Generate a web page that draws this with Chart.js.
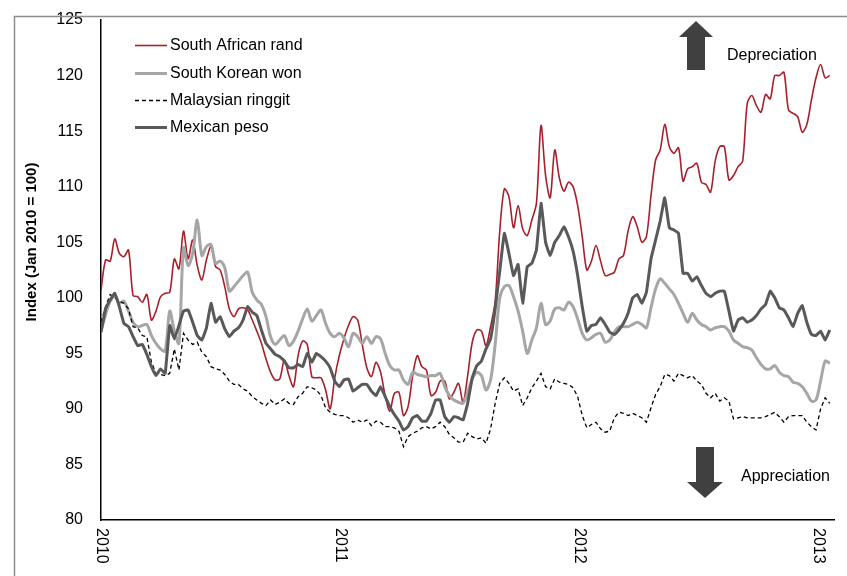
<!DOCTYPE html>
<html>
<head>
<meta charset="utf-8">
<script src="https://cdn.jsdelivr.net/npm/chart.js@4.4.1/dist/chart.umd.min.js"></script>
<style>
html, body { margin: 0; padding: 0; background: #fff; }
#wrap { width: 847px; height: 576px; }
</style>
</head>
<body>
<div id="wrap"><canvas id="fxChart"></canvas></div>
<script>
// weekly index values, first week of Jan 2010 onwards
const startYear = 2010;
const yearTicks = [2010, 2011, 2012, 2013];
const seriesNames = ['South African rand', 'South Korean won', 'Malaysian ringgit', 'Mexican peso'];

const randValues = [
    100.7, 103.4, 103.3, 105.3, 104.0, 103.7, 104.3, 100.2, 100.1, 99.6,
    100.3, 98.0, 98.8, 100.1, 100.4, 100.5, 103.5, 102.6, 106.0, 103.5,
    105.2, 102.9, 101.6, 103.4, 104.6, 102.8, 102.5, 101.0, 99.0, 98.3,
    99.0, 99.1, 98.9, 98.0, 97.0, 95.9, 94.5, 93.3, 92.6, 92.7,
    94.4, 93.0, 92.0, 94.8, 96.1, 95.8, 92.9, 92.8, 92.8, 91.7,
    90.0, 92.8, 94.8, 96.3, 97.5, 98.3, 98.0, 95.8, 93.7, 92.9,
    94.2, 93.3, 91.2, 89.8, 91.4, 91.5, 89.4, 90.2, 93.0, 94.8,
    93.8, 93.5, 91.2, 91.5, 92.5, 92.5, 90.9, 91.5, 92.3, 90.6,
    93.0, 96.0, 97.1, 97.0, 95.7, 97.4, 99.7, 106.0, 109.8, 109.1,
    106.3, 108.3, 106.2, 105.6, 107.0, 108.5, 115.5, 111.0, 109.0, 113.3,
    110.8, 109.6, 110.4, 110.0, 108.3, 105.5, 102.5, 103.3, 104.7, 103.3,
    102.0, 102.1, 102.3, 103.5, 103.8, 106.0, 107.3, 106.4, 105.0, 105.5,
    109.2, 112.4, 113.3, 115.6, 113.6, 113.0, 113.5, 110.5, 111.6, 111.8,
    112.1, 110.4, 110.2, 109.5, 112.3, 113.6, 113.6, 110.6, 111.0, 111.8,
    112.3, 117.5, 118.2, 117.3, 116.7, 118.3, 117.9, 120.0, 120.0, 120.3,
    116.9, 116.6, 116.3, 114.9, 115.6, 117.8, 119.8, 121.0, 119.8, 120.0
];

const wonValues = [
    97.0, 98.5, 99.7, 100.2, 99.5, 99.7, 98.8, 97.8, 97.4, 97.5,
    97.6, 96.6, 95.9, 95.4, 95.2, 98.8, 97.0, 95.9, 104.5, 102.9,
    104.0, 107.0, 103.8, 104.6, 104.8, 103.1, 103.3, 102.7, 100.6, 101.0,
    101.5, 102.0, 102.3, 100.5, 99.8, 99.4, 98.3, 96.5, 95.8, 96.2,
    96.6, 95.7, 96.1, 97.0, 98.1, 99.0, 97.9, 98.4, 98.9, 97.7,
    96.8, 96.5, 96.8, 96.4, 95.6, 96.8, 96.5, 95.9, 96.5, 95.9,
    96.5, 96.3, 95.0, 93.9, 93.5, 93.5, 92.6, 92.2, 93.3, 93.1,
    93.0, 92.9, 93.0, 93.0, 93.2, 92.0, 91.2, 90.8, 90.6, 90.5,
    91.5, 92.7, 93.3, 93.0, 91.7, 92.6, 95.8, 100.0, 101.0, 101.1,
    100.1, 98.8, 97.0, 95.0, 96.2, 97.3, 99.5, 97.6, 97.9, 99.0,
    99.1, 98.9, 99.6, 99.2, 98.1, 96.8, 96.2, 96.4, 96.7, 96.8,
    96.0, 96.2, 96.9, 97.4, 97.4, 97.4, 97.6, 97.8, 97.6, 97.3,
    99.1, 100.8, 101.7, 101.3, 100.8, 100.3, 99.5, 98.6, 97.8, 98.6,
    98.0, 97.6, 97.4, 97.1, 97.3, 97.4, 97.4, 97.0, 96.2, 95.9,
    95.6, 95.5, 95.3, 94.6, 94.0, 93.6, 93.6, 93.9, 93.3, 93.0,
    92.9, 92.4, 92.3, 92.0, 91.4, 90.7, 90.8, 92.5, 94.3, 94.1
];

const ringgitValues = [
    97.8, 99.2, 100.3, 100.0, 99.7, 99.5, 99.0, 97.4, 97.3, 96.6,
    96.5, 94.2, 93.2, 93.1, 93.0, 93.2, 95.4, 93.5, 96.8, 96.2,
    95.8, 96.0, 95.1, 94.7, 93.8, 93.6, 93.5, 93.1, 92.5, 92.2,
    92.2, 91.8, 91.6, 91.1, 90.8, 90.5, 90.3, 90.8, 90.4, 90.6,
    90.9, 90.5, 90.4, 91.1, 91.4, 92.0, 91.9, 91.7, 91.2, 90.1,
    89.7, 89.5, 89.4, 89.4, 89.2, 88.8, 89.0, 88.8, 89.0, 88.5,
    88.9, 88.8, 88.4, 88.4, 88.3, 88.0, 86.6, 87.5, 87.8, 88.0,
    88.3, 88.4, 88.2, 88.4, 88.8, 88.4, 87.7, 87.4, 87.0, 87.0,
    87.8, 87.5, 87.3, 87.4, 86.9, 88.2, 90.5, 92.3, 92.8, 92.3,
    91.6, 91.8, 90.3, 91.0, 91.9, 92.5, 93.2, 92.0, 91.8, 92.7,
    92.4, 92.3, 92.2, 91.9, 91.1, 89.4, 88.3, 88.6, 88.8, 88.2,
    87.9, 88.0, 89.2, 89.7, 89.6, 89.4, 89.6, 89.4, 89.2, 88.8,
    90.1, 91.3, 92.0, 93.1, 93.0, 92.5, 93.2, 93.0, 92.8, 93.0,
    92.5, 92.2, 91.4, 91.0, 91.4, 90.7, 91.0, 90.7, 89.1, 89.2,
    89.3, 89.2, 89.2, 89.2, 89.2, 89.3, 89.5, 89.7, 89.3, 88.8,
    89.3, 89.4, 89.4, 89.4, 88.8, 88.4, 88.1, 90.0, 91.0, 90.5
];

const pesoValues = [
    96.9, 99.0, 99.8, 100.4, 99.2, 97.7, 97.4, 96.5, 95.7, 95.8,
    94.9, 93.8, 93.0, 93.6, 93.2, 97.5, 96.3, 97.5, 98.8, 98.9,
    97.8, 96.6, 96.2, 97.3, 99.5, 97.8, 98.3, 97.2, 96.5, 97.0,
    97.3, 98.0, 99.2, 98.7, 98.4, 97.1, 95.9, 95.4, 94.9, 94.7,
    94.3, 93.7, 93.7, 94.0, 93.8, 95.0, 94.2, 95.0, 94.7, 94.3,
    93.7, 92.5, 92.0, 92.6, 92.7, 91.6, 91.9, 92.2, 92.2, 91.6,
    91.2, 92.0, 91.1, 90.2, 89.5, 88.9, 88.1, 88.4, 89.2, 89.4,
    88.9, 88.9, 89.6, 90.8, 90.8, 89.3, 88.8, 89.3, 89.2, 89.0,
    90.5, 92.8, 93.9, 94.3, 95.4, 96.3, 99.0, 102.4, 105.8, 104.0,
    102.0, 103.0, 99.5, 102.8, 103.1, 104.3, 108.5, 105.0, 103.8, 105.0,
    105.6, 106.4, 105.5, 104.2, 102.0, 99.2, 97.0, 97.5, 97.6, 98.2,
    97.6, 96.9, 96.7, 97.1, 97.7, 98.6, 100.0, 100.3, 99.5, 100.5,
    103.5, 105.2, 106.9, 109.0, 106.3, 106.1, 105.8, 102.2, 102.2, 101.5,
    101.9, 101.1, 100.4, 100.1, 100.4, 100.6, 100.6, 98.8, 97.0, 98.0,
    98.2, 97.8, 98.0, 98.4, 99.0, 99.4, 100.6, 100.0, 99.1, 98.9,
    98.2, 97.4, 98.6, 99.3, 97.8, 96.7, 96.6, 97.0, 96.2, 97.1
];

const lineColors = ['#a8202c', '#a6a6a6', '#000000', '#595959'];

// turn a weekly series into {x: fractional year, y}
function weekly(values) {
    return values.map((v, i) => ({ x: startYear + i * 7 / 365.25, y: v }));
}

Chart.defaults.font.family = "'Liberation Sans', Arial, sans-serif";
Chart.defaults.color = '#000';

const decorations = {
    id: 'decorations',
    afterDraw(chart) {
        const ctx = chart.ctx;
        const xs = chart.scales.x;
        ctx.save();

        // outer frame (top and left edges)
        ctx.strokeStyle = '#8c8c8c';
        ctx.lineWidth = 1.5;
        ctx.beginPath();
        ctx.moveTo(14.5, 576);
        ctx.lineTo(14.5, 16.5);
        ctx.lineTo(847, 16.5);
        ctx.stroke();

        // y axis title
        ctx.fillStyle = '#000';
        ctx.font = "bold 15px 'Liberation Sans'";
        ctx.textAlign = 'center';
        ctx.textBaseline = 'middle';
        ctx.save();
        ctx.translate(32, 242);
        ctx.rotate(-Math.PI / 2);
        ctx.fillText('Index (Jan 2010 = 100)', 0, 0);
        ctx.restore();

        // year labels, turned clockwise
        ctx.font = "16px 'Liberation Sans'";
        ctx.textAlign = 'left';
        yearTicks.forEach(yr => {
            const px = xs.getPixelForValue(yr);
            ctx.save();
            ctx.translate(px, 528);
            ctx.rotate(Math.PI / 2);
            ctx.fillText(String(yr), 0, 0);
            ctx.restore();
        });

        // legend
        const rows = [45, 73, 100, 127];
        chart.data.datasets.forEach((ds, i) => {
            const y = rows[i] + 0.5;
            ctx.strokeStyle = ds.borderColor;
            ctx.lineWidth = ds.borderWidth;
            ctx.setLineDash(ds.borderDash || []);
            ctx.beginPath();
            ctx.moveTo(135, y);
            ctx.lineTo(167, y);
            ctx.stroke();
            ctx.setLineDash([]);
            ctx.fillStyle = '#000';
            ctx.textBaseline = 'middle';
            ctx.fillText(ds.label, 170, y);
        });

        // depreciation / appreciation arrows
        ctx.fillStyle = '#404040';
        ctx.beginPath();
        ctx.moveTo(696, 21);
        ctx.lineTo(713, 37);
        ctx.lineTo(705, 37);
        ctx.lineTo(705, 70);
        ctx.lineTo(687, 70);
        ctx.lineTo(687, 37);
        ctx.lineTo(679, 37);
        ctx.closePath();
        ctx.fill();

        ctx.beginPath();
        ctx.moveTo(696, 447);
        ctx.lineTo(714, 447);
        ctx.lineTo(714, 482);
        ctx.lineTo(723, 482);
        ctx.lineTo(705, 498);
        ctx.lineTo(687, 482);
        ctx.lineTo(696, 482);
        ctx.closePath();
        ctx.fill();

        ctx.fillStyle = '#000';
        ctx.fillText('Depreciation', 727, 56);
        ctx.fillText('Appreciation', 741, 477);
        ctx.restore();
    }
};

const ctx = document.getElementById('fxChart').getContext('2d');
new Chart(ctx, {
    type: 'line',
    data: {
        datasets: [
            {
                label: seriesNames[0],
                data: weekly(randValues),
                borderColor: lineColors[0],
                borderWidth: 1.6,
                tension: 0.3,
                order: 3
            },
            {
                label: seriesNames[1],
                data: weekly(wonValues),
                borderColor: lineColors[1],
                borderWidth: 3,
                tension: 0.3,
                order: 2
            },
            {
                label: seriesNames[2],
                data: weekly(ringgitValues),
                borderColor: lineColors[2],
                borderWidth: 1.3,
                borderDash: [4, 3],
                tension: 0,
                order: 1
            },
            {
                label: seriesNames[3],
                data: weekly(pesoValues),
                borderColor: lineColors[3],
                borderWidth: 3,
                tension: 0.1,
                order: 0
            }
        ]
    },
    options: {
        responsive: true,
        maintainAspectRatio: false,
        animation: false,
        elements: { point: { radius: 0 } },
        layout: { padding: { top: 20, right: 13, left: 0, bottom: 0 } },
        plugins: {
            legend: { display: false },
            tooltip: { enabled: false }
        },
        scales: {
            x: {
                type: 'linear',
                min: 2010,
                max: 2013.065,
                grid: { display: false, drawTicks: false },
                border: { display: true, color: '#000', width: 1.5 },
                ticks: { display: false },
                afterFit: s => { s.height = 56; }
            },
            y: {
                min: 80,
                max: 125,
                grid: { display: false, drawTicks: false },
                border: { display: true, color: '#000', width: 1.5 },
                ticks: { stepSize: 5, padding: 18, font: { size: 16 }, color: '#000' },
                afterFit: s => {
                    s.width = 101;
                    s.paddingTop = 0;
                    s.paddingBottom = 0;
                }
            }
        }
    },
    plugins: [decorations]
});
</script>
</body>
</html>
